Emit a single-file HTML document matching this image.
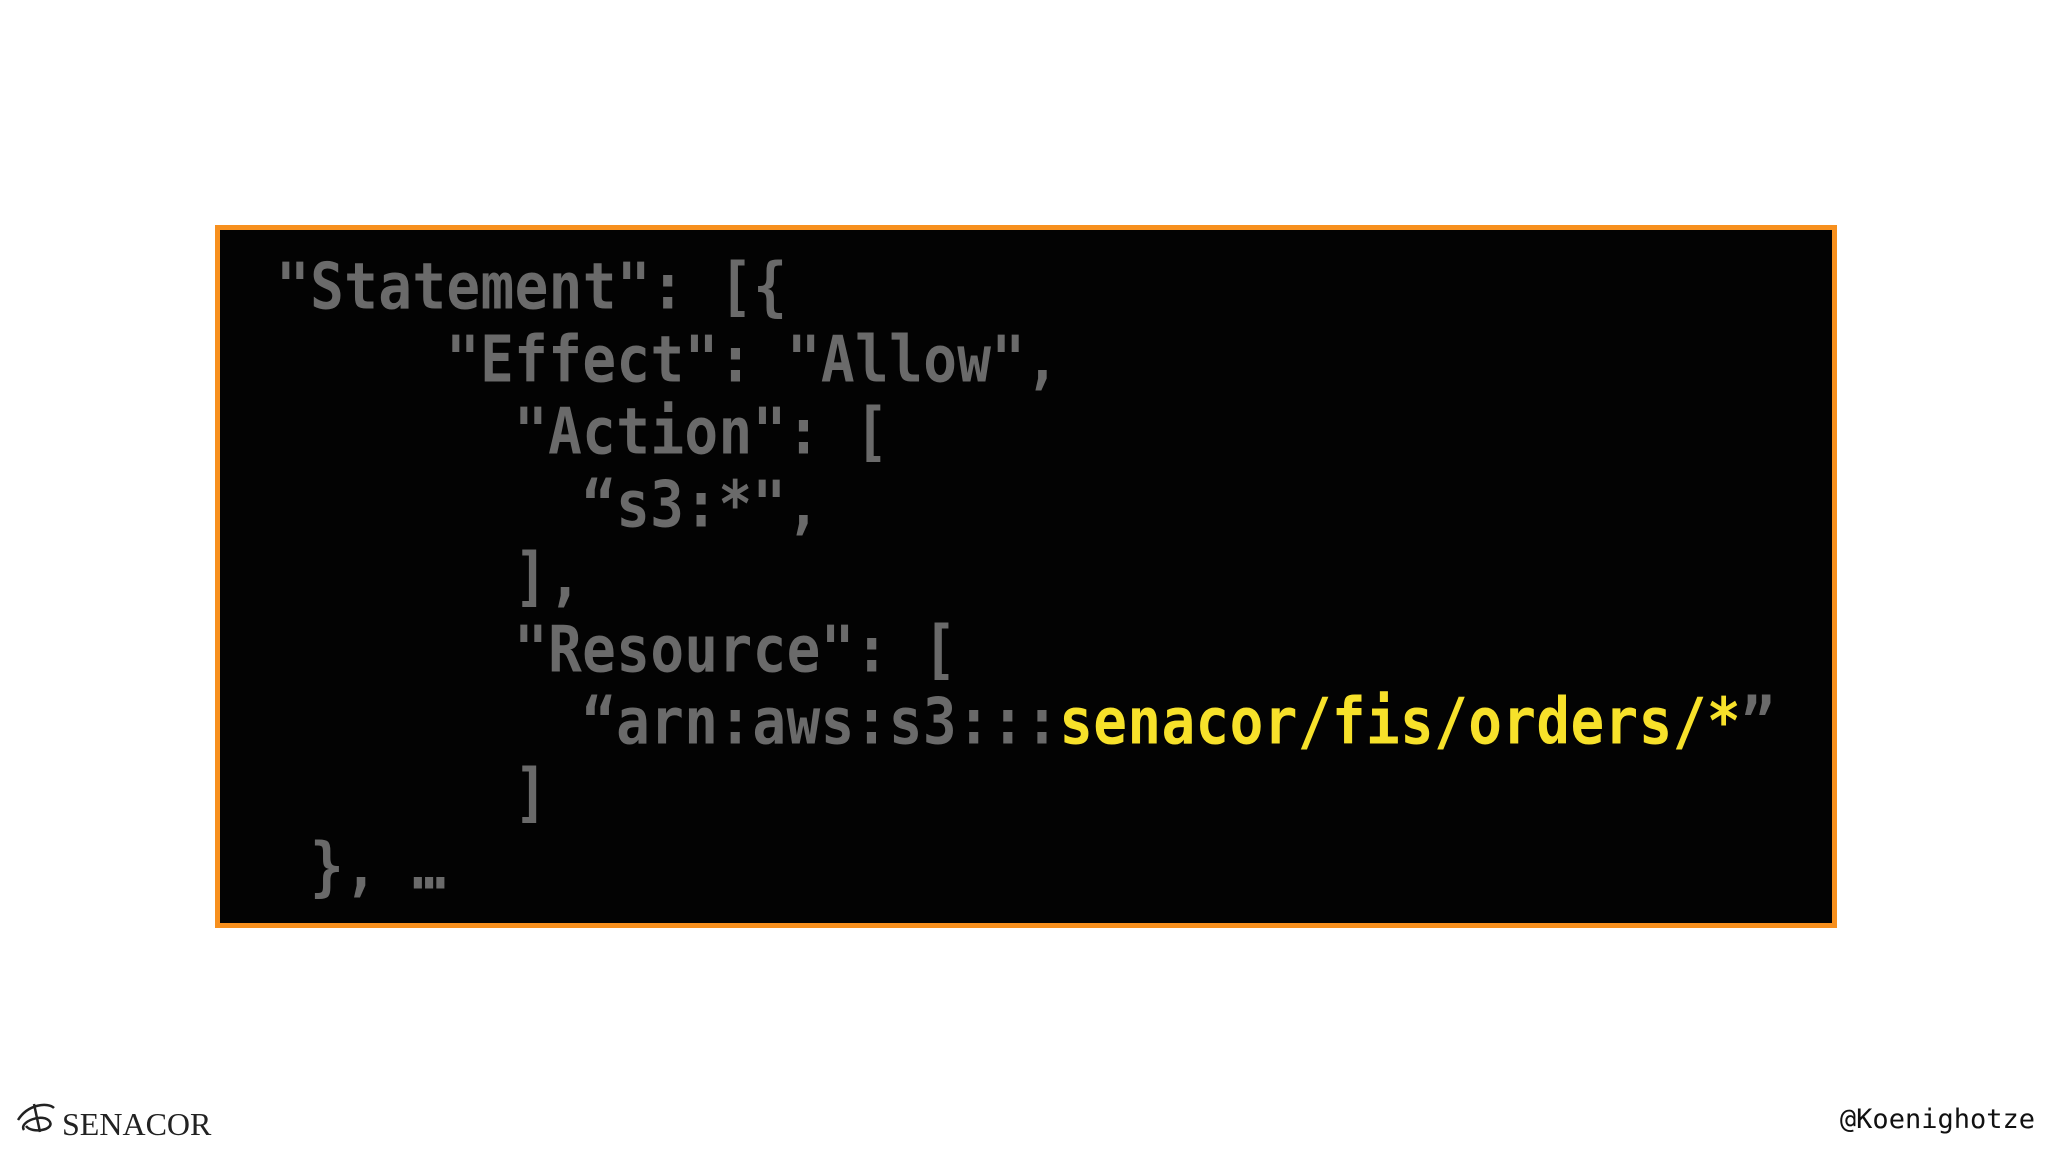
<!DOCTYPE html>
<html><head><style>
body{margin:0;width:2048px;height:1152px;background:#fff;position:relative;overflow:hidden}
.box{position:absolute;left:215px;top:225px;width:1612px;height:693px;background:#030303;border:5px solid #f7901e}
.l{position:absolute;font-family:"DejaVu Sans Mono","Liberation Mono",monospace;font-weight:bold;font-size:56px;letter-spacing:0.37px;color:#6a6a6a;white-space:pre;line-height:72px;height:72px;transform:scaleY(1.15);transform-origin:left center}
.y{color:#f7e12a}
.foot{position:absolute;font-family:"DejaVu Sans Mono","Liberation Mono",monospace;font-size:27px;color:#111}
.sen{position:absolute;left:62px;top:1106px;font-family:"Liberation Serif",serif;font-size:32px;color:#222}
</style></head><body>
<div class="box"></div>
<div class="l" style="left:276px;top:252px">"Statement": [{</div>
<div class="l" style="left:446px;top:325px">"Effect": "Allow",</div>
<div class="l" style="left:514px;top:397px">"Action": [</div>
<div class="l" style="left:582px;top:470px">“s3:*",</div>
<div class="l" style="left:514px;top:542px">],</div>
<div class="l" style="left:514px;top:615px">"Resource": [</div>
<div class="l" style="left:582px;top:687px">“arn:aws:s3:::<span class="y">senacor/fis/orders/*</span>”</div>
<div class="l" style="left:514px;top:758px">]</div>
<div class="l" style="left:310px;top:832px">}, …</div>
<svg style="position:absolute;left:14px;top:1100px" width="46" height="36" viewBox="0 0 46 36"><path d="M4 20 C14 4,34 2,40 8 M10 30 C4 22,30 12,36 22 C40 30,18 34,12 26 M20 4 L26 32" stroke="#222" stroke-width="2.5" fill="none"/></svg>
<div class="sen">SENACOR</div>
<div class="foot" style="right:13px;top:1104px">@Koenighotze</div>
</body></html>
